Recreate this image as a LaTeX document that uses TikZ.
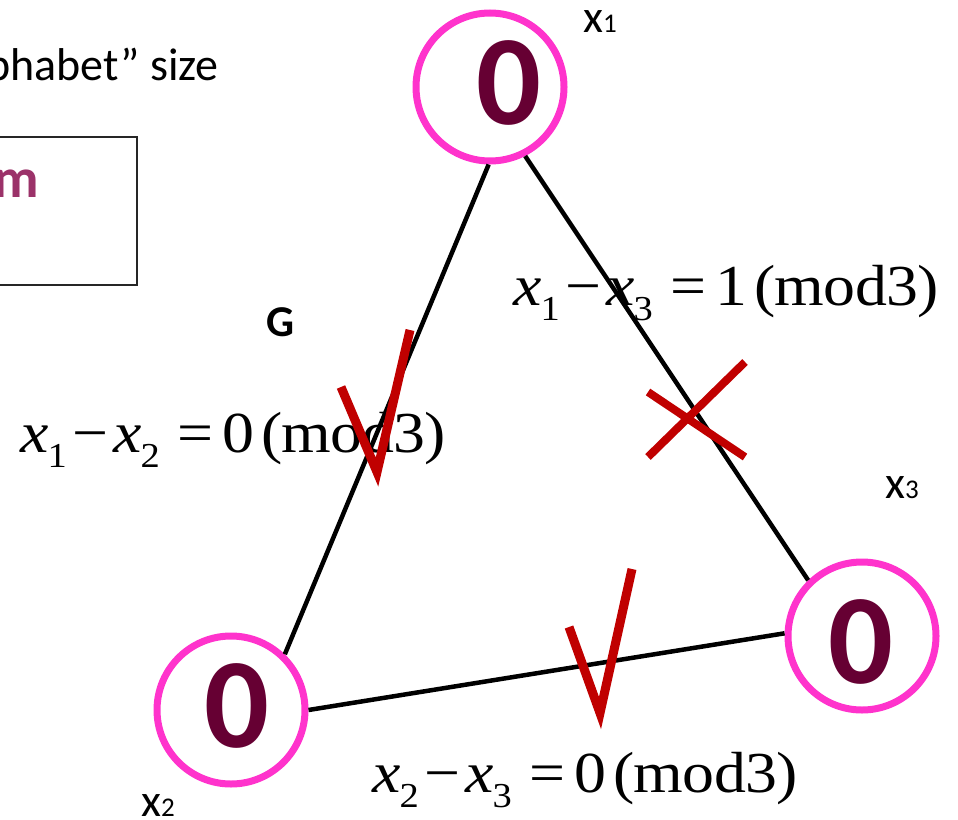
\documentclass[tikz,border=0pt]{standalone}
\usepackage{fontspec}
\setmainfont{Carlito}
\newfontfamily\eqf[FakeStretch=1.1]{Liberation Serif}
\definecolor{ringpink}{RGB}{255,51,204}
\definecolor{zerocol}{RGB}{102,0,51}
\definecolor{markred}{RGB}{192,0,0}
\definecolor{mpurple}{RGB}{155,50,105}
\newcommand\subdig[1]{\kern-1pt\raisebox{-15pt}{\fontsize{35}{35}\selectfont #1}}
\newcommand\modeq[3]{{\eqf\fontsize{58}{60}\selectfont
\makebox[52pt][l]{\textit{x}\subdig{#1}}%
\makebox[41pt][l]{−}%
\makebox[64pt][l]{\textit{x}\subdig{#2}}%
\makebox[45pt][l]{=}%
\makebox[39pt][l]{#3}%
\makebox[20pt][l]{(}%
\makebox[112pt][l]{mod}%
\makebox[31pt][l]{3}%
)}}
\newcommand\vlab[1]{{\fontsize{46}{50}\selectfont x\fontsize{27}{30}\selectfont #1}}
\tikzset{
  ring/.style={circle,draw=ringpink,line width=7pt,minimum size=148pt,inner sep=0pt},
  zero/.style={inner sep=0pt,font=\bfseries\fontsize{128}{130}\selectfont,text=zerocol},
  edge/.style={line width=4.5pt,black},
  redmark/.style={draw=markred,line width=9pt,line cap=butt,line join=miter},
  txt/.style={inner sep=0pt,anchor=base west},
}
\begin{document}
\begin{tikzpicture}[x=1pt,y=-1pt]
\useasboundingbox (0,0) rectangle (958,819);
% top-left partial text and box
\node[inner sep=0pt,anchor=base east,font=\fontsize{46}{50}\selectfont] (title) at (219,80) {phabet” size};
\draw[line width=2pt,black!85] (-20,137) rectangle (137,285);
\node[inner sep=0pt,anchor=base east,font=\bfseries\fontsize{56}{60}\selectfont,text=mpurple] (mtext) at (39,197) {m};
\node[txt,font=\bfseries\fontsize{44}{48}\selectfont] (G) at (266,336) {G};
% vertices
\node[ring] (n1) at (490,87) {};
\node[ring] (n2) at (231,710) {};
\node[ring] (n3) at (862,636) {};
\node[zero] (z1) at (509,83) {0};
\node[zero] (z2) at (237,706) {0};
\node[zero] (z3) at (861,642) {0};
\node[txt] (l1) at (583,32) {\vlab{1}};
\node[txt] (l2) at (141,816) {\vlab{2}};
\node[txt] (l3) at (885,498) {\vlab{3}};
% edges
\draw[edge] (n1.-91.5) -- (n2.46);
\draw[edge] (n1.-63) -- (n3.134.5);
\draw[edge] (n2.0) -- (n3.178.5);
% equations
\node[txt] (e1) at (20,452) {\modeq{1}{2}{0}};
\node[txt] (e2) at (513,305) {\modeq{1}{3}{1}};
\node[txt] (e3) at (372,792) {\modeq{2}{3}{0}};
% marks
\draw[redmark] (341,387) -- (377,472) -- (410,330);
\draw[redmark] (569,627) -- (600,713) -- (632,569);
\draw[redmark,line width=8pt] (648,392) -- (745,457);
\draw[redmark,line width=8pt] (745,362) -- (648,457);
\end{tikzpicture}
\end{document}
